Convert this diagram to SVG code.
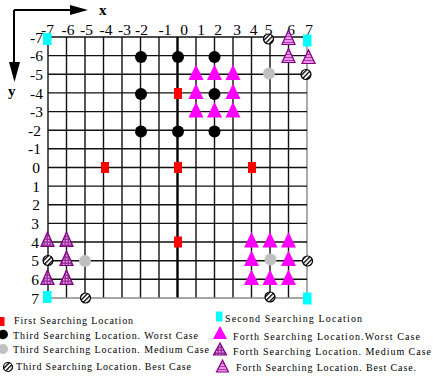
<svg xmlns="http://www.w3.org/2000/svg" width="433" height="379" viewBox="0 0 433 379">
<style>
.g{stroke:#111;stroke-width:1.4;fill:none}
.gt{stroke:#000;stroke-width:2.4;fill:none}
.gr{stroke:#888;stroke-width:1.4;fill:none}
.lb{font-family:"Liberation Serif",serif;font-size:15.5px;fill:#000}
.lbl{font-family:"Liberation Serif",serif;font-size:15.5px;fill:#000;text-anchor:end}
.lg{font-family:"Liberation Serif",serif;font-size:10px;fill:#000}
.red{fill:#ff0000}
.cy{fill:#00ffff}
.bk{fill:#000}
.gy{fill:#c0c0c0}
.hc{fill:url(#diag);stroke:#000;stroke-width:1.2}
.mt{fill:#ff00ff}
.pm{fill:url(#chk);stroke:#800080;stroke-width:1.2}
.pb{fill:url(#hz);stroke:#800080;stroke-width:1.2}
</style>
<defs>
<pattern id="diag" width="3.2" height="3.2" patternUnits="userSpaceOnUse" patternTransform="rotate(-45)">
<rect width="3.2" height="3.2" fill="#fff"/>
<rect width="3.2" height="1.3" fill="#000"/>
</pattern>
<pattern id="chk" width="3" height="3" patternUnits="userSpaceOnUse">
<rect width="3" height="3" fill="#993399"/>
<rect x="0" y="0" width="1.5" height="1.5" fill="#f0a0f0"/>
</pattern>
<pattern id="hz" width="3" height="3" patternUnits="userSpaceOnUse">
<rect width="3" height="3" fill="#f090f0"/>
<rect width="3" height="1" fill="#a040a0"/>
</pattern>
<symbol id="tri" overflow="visible"><polygon points="0,-9.5 -7.5,6 7.5,6"/></symbol>
</defs>

<g id="axes">
<line x1="14" y1="10" x2="72" y2="10" stroke="#000" stroke-width="2"/>
<polygon points="70,5 88,10 70,15" fill="#000"/>
<line x1="14" y1="10" x2="14" y2="64" stroke="#000" stroke-width="2"/>
<polygon points="9,62 20,62 14.5,82" fill="#000"/>
<text x="99" y="15" font-family="Liberation Serif,serif" font-size="15" font-weight="bold">x</text>
<text x="8" y="96" font-family="Liberation Serif,serif" font-size="15" font-weight="bold">y</text>
</g>

<g id="grid">
<line class="g" x1="48" y1="37" x2="48" y2="298"/>
<line class="g" x1="66.5" y1="37" x2="66.5" y2="298"/>
<line class="g" x1="85" y1="37" x2="85" y2="298"/>
<line class="g" x1="103.5" y1="37" x2="103.5" y2="298"/>
<line class="g" x1="122" y1="37" x2="122" y2="298"/>
<line class="g" x1="140.5" y1="37" x2="140.5" y2="298" stroke-width="2"/>
<line class="g" x1="159" y1="37" x2="159" y2="298"/>
<line class="gt" x1="177.5" y1="37" x2="177.5" y2="298"/>
<line class="g" x1="196" y1="37" x2="196" y2="298"/>
<line class="g" x1="214.5" y1="37" x2="214.5" y2="298" stroke-width="2"/>
<line class="g" x1="233" y1="37" x2="233" y2="298"/>
<line class="g" x1="251.5" y1="37" x2="251.5" y2="298"/>
<line class="g" x1="270" y1="37" x2="270" y2="298"/>
<line class="g" x1="288.5" y1="37" x2="288.5" y2="298"/>
<line class="gr" x1="307" y1="37" x2="307" y2="298"/>
<line class="g" x1="48" y1="37" x2="307" y2="37"/>
<line class="g" x1="48" y1="55.6" x2="307" y2="55.6" stroke-width="1.8"/>
<line class="g" x1="48" y1="74.3" x2="307" y2="74.3"/>
<line class="g" x1="48" y1="92.9" x2="307" y2="92.9" stroke-width="1.8"/>
<line class="g" x1="48" y1="111.6" x2="307" y2="111.6"/>
<line class="g" x1="48" y1="130.2" x2="307" y2="130.2" stroke-width="1.8"/>
<line class="g" x1="48" y1="148.8" x2="307" y2="148.8"/>
<line class="g" x1="48" y1="167.5" x2="307" y2="167.5" stroke-width="1.8"/>
<line class="g" x1="48" y1="186.1" x2="307" y2="186.1"/>
<line class="g" x1="48" y1="204.8" x2="307" y2="204.8"/>
<line class="g" x1="48" y1="223.4" x2="307" y2="223.4"/>
<line class="g" x1="48" y1="242" x2="307" y2="242" stroke-width="1.8"/>
<line class="g" x1="48" y1="260.7" x2="307" y2="260.7"/>
<line class="g" x1="48" y1="279.3" x2="307" y2="279.3"/>
<line class="gr" x1="48" y1="298" x2="307" y2="298"/>
</g>

<g id="xlabels" class="lb" text-anchor="middle">
<text x="47.5" y="35">-7</text>
<text x="68" y="35">-6</text>
<text x="86.5" y="35">-5</text>
<text x="106" y="35">-4</text>
<text x="124.5" y="35">-3</text>
<text x="141.5" y="35">-2</text>
<text x="165" y="35">-1</text>
<text x="184" y="35">0</text>
<text x="201" y="35">1</text>
<text x="218" y="35">2</text>
<text x="237" y="35">3</text>
<text x="253.5" y="35">4</text>
<text x="268.5" y="35">5</text>
<text x="291" y="35">6</text>
<text x="309" y="35">7</text>
</g>

<g id="ylabels" class="lbl">
<text x="43" y="42.5">-7</text>
<text x="43" y="61">-6</text>
<text x="43" y="80">-5</text>
<text x="43" y="98.5">-4</text>
<text x="43" y="117">-3</text>
<text x="41" y="135.5">-2</text>
<text x="41" y="154">-1</text>
<text x="40" y="173">0</text>
<text x="40" y="191.5">1</text>
<text x="40" y="210">2</text>
<text x="39" y="229">3</text>
<text x="39" y="247.5">4</text>
<text x="39" y="266">5</text>
<text x="39" y="284.5">6</text>
<text x="39" y="303.5">7</text>
</g>

<g id="first-search" class="red">
<rect x="174" y="88" width="8" height="11"/>
<rect x="101" y="162" width="8" height="11"/>
<rect x="174" y="162" width="8" height="11"/>
<rect x="248" y="162" width="8" height="11"/>
<rect x="174" y="236.5" width="8" height="11"/>
</g>

<g id="second-search" class="cy">
<rect x="43" y="33" width="8.5" height="12"/>
<rect x="303" y="34.5" width="8.5" height="12"/>
<rect x="43" y="291" width="8.5" height="12"/>
<rect x="303" y="292.5" width="8.5" height="12"/>
</g>

<g id="third-worst" class="bk">
<ellipse cx="141" cy="57" rx="6" ry="6"/>
<ellipse cx="178" cy="57" rx="6" ry="6"/>
<ellipse cx="214.5" cy="57" rx="6" ry="6"/>
<ellipse cx="141" cy="94" rx="6" ry="6"/>
<ellipse cx="214.5" cy="94" rx="6" ry="6"/>
<ellipse cx="141" cy="131.5" rx="6" ry="6"/>
<ellipse cx="178" cy="131.5" rx="6" ry="6"/>
<ellipse cx="214.5" cy="131.5" rx="6" ry="6"/>
</g>

<g id="third-medium" class="gy">
<circle cx="269" cy="73.5" r="6"/>
<circle cx="85" cy="261" r="6"/>
<circle cx="270.5" cy="259.5" r="6"/>
</g>

<g id="third-best" class="hc">
<circle cx="268.5" cy="39" r="5"/>
<circle cx="306" cy="74.5" r="5"/>
<circle cx="48" cy="260.5" r="5"/>
<circle cx="85.5" cy="298" r="5"/>
<circle cx="307.5" cy="261" r="5"/>
<circle cx="270" cy="297" r="5"/>
</g>

<g id="forth-worst" class="mt">
<use href="#tri" x="196" y="74"/>
<use href="#tri" x="214.5" y="74"/>
<use href="#tri" x="233" y="74"/>
<use href="#tri" x="196" y="93"/>
<use href="#tri" x="233" y="93"/>
<use href="#tri" x="196" y="111.5"/>
<use href="#tri" x="214.5" y="111.5"/>
<use href="#tri" x="233" y="111.5"/>
<use href="#tri" x="251.5" y="241.5"/>
<use href="#tri" x="270" y="241.5"/>
<use href="#tri" x="288.5" y="241.5"/>
<use href="#tri" x="251.5" y="260"/>
<use href="#tri" x="288.5" y="260"/>
<use href="#tri" x="251.5" y="279"/>
<use href="#tri" x="270" y="279"/>
<use href="#tri" x="288.5" y="279"/>
</g>

<g id="forth-medium" class="pm">
<polygon points="47.5,232 41,246.5 54,246.5"/>
<polygon points="66.5,232 60,246.5 73,246.5"/>
<polygon points="66.5,251 60,265.5 73,265.5"/>
<polygon points="47.5,270 41,284.5 54,284.5"/>
<polygon points="66.5,270 60,284.5 73,284.5"/>
</g>

<g id="forth-best" class="pb">
<polygon points="288.5,30 282,44.5 295,44.5"/>
<polygon points="288.5,48.5 282,62.5 295,62.5"/>
<polygon points="308.5,50 302,63.5 315,63.5"/>
</g>

<g id="legend">
<rect class="red" x="-3" y="317" width="7.5" height="9"/>
<text class="lg" x="14" y="324" textLength="119" lengthAdjust="spacing">First Searching Location</text>
<ellipse class="bk" cx="3" cy="334.5" rx="5" ry="4.7"/>
<text class="lg" x="13" y="338.5" textLength="185" lengthAdjust="spacing">Third Searching Location. Worst Case</text>
<ellipse class="gy" cx="3" cy="349" rx="5" ry="5"/>
<text class="lg" x="13" y="352.5" textLength="196" lengthAdjust="spacing">Third Searching Location. Medium Case</text>
<circle class="hc" cx="8" cy="367" r="4.5"/>
<text class="lg" x="16" y="369.5" textLength="175" lengthAdjust="spacing">Third Searching Location. Best Case</text>

<rect class="cy" x="216" y="311.5" width="6.5" height="10"/>
<text class="lg" x="225" y="322" textLength="137" lengthAdjust="spacing">Second Searching Location</text>
<polygon class="mt" points="220,326 213,339 227,339"/>
<text class="lg" x="233" y="340" textLength="187" lengthAdjust="spacing">Forth Searching Location.Worst Case</text>
<polygon class="pm" points="220,343 213.5,355 226.5,355"/>
<text class="lg" x="233" y="355" textLength="198" lengthAdjust="spacing">Forth Searching Location. Medium Case</text>
<polygon class="pb" points="222.5,360 216.5,372 228.5,372"/>
<text class="lg" x="236" y="371" textLength="180" lengthAdjust="spacing">Forth Searching Location. Best Case.</text>
</g>
</svg>
